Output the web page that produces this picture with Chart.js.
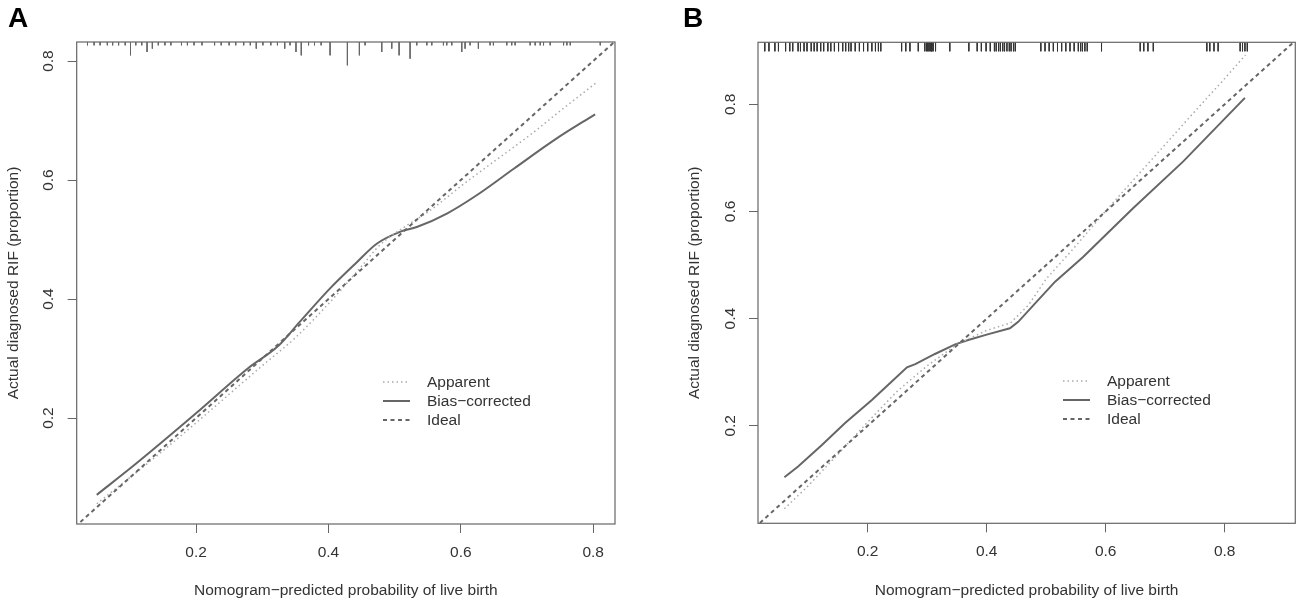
<!DOCTYPE html>
<html>
<head>
<meta charset="utf-8">
<script src="https://cdn.jsdelivr.net/npm/chart.js@4.4.0/dist/chart.umd.min.js"></script>
<style>
  html, body { margin: 0; padding: 0; background: #fff; width: 1299px; height: 604px; overflow: hidden;
    font-family: "Liberation Sans", Arial, sans-serif; }
  #wrap { position: relative; width: 1299px; height: 604px; }
  canvas { position: absolute; top: 0; }
  .plabel { position: absolute; font-weight: bold; font-size: 28px; line-height: 28px; color: #000; }
  .legend { position: absolute; font-size: 15.5px; color: #333; }
  .legend .row { height: 19.2px; display: flex; align-items: center; white-space: nowrap; }
  .legend svg { display: block; margin-right: 17px; }
</style>
</head>
<body>
<div id="wrap">
  <canvas id="chartA" width="650" height="604" style="left:0px"></canvas>
  <canvas id="chartB" width="649" height="604" style="left:650px"></canvas>
  <div class="plabel" style="left:8px;top:4px">A</div>
  <div class="plabel" style="left:683px;top:4px">B</div>
  <div class="legend" id="legendA" style="left:383px;top:372px"></div>
  <div class="legend" id="legendB" style="left:1063px;top:371px"></div>
</div>
<script>
// ---------------- data ----------------
const tickValues = [0.2, 0.4, 0.6, 0.8];
const legendLabels = ['Apparent', 'Bias\u2212corrected', 'Ideal'];
const xTitle = 'Nomogram\u2212predicted probability of live birth';
const yTitle = 'Actual diagnosed RIF (proportion)';

// ideal reference line (y = x)
const idealX = [0, 1];
const idealY = [0, 1];

// Panel A
const apparentXA = [0.05, 0.10, 0.15, 0.20, 0.25, 0.30, 0.35, 0.40, 0.45, 0.478, 0.523, 0.55, 0.604, 0.65, 0.705, 0.75, 0.804];
const apparentYA = [0.056, 0.100, 0.145, 0.192, 0.240, 0.288, 0.335, 0.392, 0.455, 0.491, 0.527, 0.546, 0.593, 0.631, 0.676, 0.716, 0.763];
const biasXA = [0.05, 0.11, 0.20, 0.28, 0.324, 0.357, 0.4025, 0.443, 0.473, 0.508, 0.5335, 0.579, 0.624, 0.68, 0.745, 0.803];
const biasYA = [0.071, 0.124, 0.208, 0.285, 0.321, 0.362, 0.418, 0.462, 0.493, 0.513, 0.521, 0.5437, 0.5745, 0.619, 0.670, 0.7105];
const rugXA = [0.036, 0.046, 0.055, 0.066, 0.074, 0.083, 0.093, 0.101, 0.109, 0.118, 0.126, 0.134, 0.143, 0.153, 0.162,
  0.178, 0.187, 0.197, 0.209, 0.228, 0.238, 0.250, 0.260, 0.272, 0.282, 0.291, 0.301, 0.313, 0.323, 0.334, 0.342,
  0.351, 0.359, 0.370, 0.379, 0.389,
  0.4025, 0.4287, 0.4468, 0.4554, 0.4806, 0.4957, 0.5068, 0.5234, 0.5335, 0.5487, 0.5562, 0.5738, 0.5788, 0.5864,
  0.6015, 0.6065, 0.614, 0.6266, 0.6443, 0.6493, 0.6695, 0.677, 0.6821, 0.7048, 0.7124, 0.72, 0.725, 0.7351,
  0.7553, 0.7603, 0.7654, 0.8107];
const rugCountA = [1, 1, 1, 1, 1, 1, 1, 4, 1, 1, 3, 2, 1, 1, 1,
  1, 1, 1, 1, 1, 1, 1, 1, 1, 1, 2, 1, 1, 1, 2, 1,
  3, 4, 1, 1, 1,
  4, 7, 4, 1, 3, 2, 4, 5, 1, 1, 1, 1, 1, 1,
  3, 2, 1, 2, 1, 1, 1, 1, 1, 1, 1, 1, 1, 1,
  1, 1, 1, 1];

// Panel B
const apparentXB = [0.06, 0.10, 0.15, 0.20, 0.25, 0.30, 0.35, 0.40, 0.44, 0.47, 0.50, 0.55, 0.60, 0.65, 0.70, 0.75, 0.80, 0.835];
const apparentYB = [0.045, 0.088, 0.147, 0.207, 0.265, 0.312, 0.352, 0.378, 0.392, 0.425, 0.474, 0.536, 0.601, 0.663, 0.725, 0.787, 0.848, 0.892];
const biasXB = [0.06, 0.083, 0.123, 0.162, 0.207, 0.24, 0.266, 0.28, 0.313, 0.347, 0.369, 0.403, 0.439, 0.453, 0.481, 0.515, 0.562, 0.646, 0.73, 0.834];
const biasYB = [0.104, 0.124, 0.164, 0.205, 0.248, 0.282, 0.309, 0.315, 0.334, 0.352, 0.360, 0.371, 0.382, 0.394, 0.428, 0.469, 0.515, 0.606, 0.693, 0.812];
const rugXB = [0.027, 0.034, 0.044, 0.050, 0.062, 0.069, 0.074, 0.083, 0.087, 0.093, 0.098, 0.105, 0.110, 0.115, 0.121,
  0.126, 0.133, 0.138, 0.144, 0.151, 0.158, 0.163, 0.168, 0.172, 0.179, 0.186, 0.193, 0.200, 0.207, 0.213, 0.218, 0.222,
  0.257, 0.264, 0.271, 0.285, 0.296, 0.299, 0.301, 0.303, 0.305, 0.307, 0.308, 0.310, 0.314, 0.338,
  0.370, 0.384, 0.391, 0.399, 0.406, 0.413, 0.416, 0.420, 0.423, 0.427, 0.430, 0.434, 0.438, 0.441, 0.445, 0.448,
  0.491, 0.498, 0.505, 0.512, 0.519, 0.526, 0.533, 0.540, 0.547, 0.554, 0.558, 0.561, 0.565, 0.569,
  0.593, 0.658, 0.664, 0.671, 0.680, 0.770, 0.775, 0.782, 0.789, 0.826, 0.830, 0.834, 0.838];

// ---------------- helpers ----------------
const FONT = '"Liberation Sans", Arial, sans-serif';
const zip = (xs, ys) => xs.map((x, i) => ({ x: x, y: ys[i] }));
function rugPoints(xs, lens, top) {
  const pts = [];
  xs.forEach((x, i) => {
    pts.push({ x: x, y: top });
    pts.push({ x: x, y: top - lens[i] });
    pts.push({ x: x, y: null });
  });
  return pts;
}

const boxPlugin = {
  id: 'plotBox',
  afterDatasetsDraw(chart) {
    const { ctx, chartArea: a } = chart;
    ctx.save();
    ctx.strokeStyle = '#666';
    ctx.lineWidth = 1.2;
    ctx.strokeRect(a.left, a.top, a.right - a.left, a.bottom - a.top);
    ctx.restore();
  }
};

const lineStyles = {
  apparent: { color: '#aaaaaa', width: 1.5, dash: [1.5, 3] },
  bias: { color: '#666666', width: 2, dash: [] },
  ideal: { color: '#666666', width: 2, dash: [4, 3.5] }
};

function makePanel(id, p) {
  const curveMode = p.smooth ? 'monotone' : 'default';
  const datasets = [
    { label: 'rug', data: rugPoints(p.rugX, p.rugLen, p.yMax), borderColor: p.rugColor, borderWidth: 1,
      showLine: true, pointRadius: 0, spanGaps: false },
    { label: legendLabels[2], data: zip(idealX, idealY), borderColor: lineStyles.ideal.color,
      borderWidth: lineStyles.ideal.width, borderDash: lineStyles.ideal.dash, showLine: true, pointRadius: 0 },
    { label: legendLabels[0], data: zip(p.appX, p.appY), borderColor: lineStyles.apparent.color,
      borderWidth: lineStyles.apparent.width, borderDash: lineStyles.apparent.dash, showLine: true, pointRadius: 0,
      cubicInterpolationMode: curveMode },
    { label: legendLabels[1], data: zip(p.biasX, p.biasY), borderColor: lineStyles.bias.color,
      borderWidth: lineStyles.bias.width, showLine: true, pointRadius: 0, cubicInterpolationMode: curveMode }
  ];
  const tickFont = { family: FONT, size: 15.5 };
  return new Chart(document.getElementById(id), {
    type: 'scatter',
    data: { datasets: datasets },
    plugins: [boxPlugin],
    options: {
      responsive: false,
      animation: false,
      events: [],
      layout: { padding: { left: 0, top: p.padTop, right: p.padRight, bottom: 0 } },
      plugins: { legend: { display: false }, tooltip: { enabled: false } },
      scales: {
        x: {
          type: 'linear', min: p.xMin, max: p.xMax,
          afterBuildTicks: s => { s.ticks = tickValues.map(v => ({ value: v })); },
          afterFit: s => { s.height = p.xAxisH; },
          ticks: { callback: v => Number(v).toFixed(1), font: tickFont, color: '#333', padding: 10, maxRotation: 0, autoSkip: false },
          grid: { drawOnChartArea: false, drawTicks: true, tickLength: 9, color: '#666', lineWidth: 1 },
          border: { display: false },
          title: { display: true, text: xTitle, font: tickFont, color: '#333', padding: { top: 0, bottom: 4.2 } }
        },
        y: {
          type: 'linear', min: p.yMin, max: p.yMax,
          afterBuildTicks: s => { s.ticks = tickValues.map(v => ({ value: v })); },
          afterFit: s => { s.width = p.yAxisW; },
          ticks: { callback: v => Number(v).toFixed(1), font: tickFont, color: '#333', padding: 8,
            minRotation: 90, maxRotation: 90, crossAlign: 'center', autoSkip: false },
          grid: { drawOnChartArea: false, drawTicks: true, tickLength: 9, color: '#666', lineWidth: 1 },
          border: { display: false },
          title: { display: true, text: yTitle, font: tickFont, color: '#333', padding: { top: p.yTitlePad, bottom: 0 } }
        }
      }
    }
  });
}

function buildLegend(elId) {
  const el = document.getElementById(elId);
  const styles = [lineStyles.apparent, lineStyles.bias, lineStyles.ideal];
  legendLabels.forEach((lab, i) => {
    const s = styles[i];
    const row = document.createElement('div');
    row.className = 'row';
    row.innerHTML = '<svg width="27" height="10"><line x1="0" y1="5" x2="27" y2="5" stroke="' + s.color +
      '" stroke-width="' + s.width + '" stroke-dasharray="' + (s.dash.length ? s.dash.join(' ') : 'none') + '"/></svg>';
    const span = document.createElement('span');
    span.textContent = lab;
    row.appendChild(span);
    el.appendChild(row);
  });
}

const rugUnitA = 0.0056;   // spike length per observation (panel A)
const rugLenB = 0.0168;    // uniform rug tick length (panel B)

makePanel('chartA', {
  xMin: 0.0197, xMax: 0.833, yMin: 0.022, yMax: 0.832,
  padTop: 42, padRight: 35, yAxisW: 76.7, xAxisH: 80, yTitlePad: 4.2, smooth: true,
  appX: apparentXA, appY: apparentYA, biasX: biasXA, biasY: biasYA,
  rugX: rugXA, rugLen: rugCountA.map(c => c * rugUnitA), rugColor: '#666'
});
makePanel('chartB', {
  xMin: 0.0156, xMax: 0.9187, yMin: 0.018, yMax: 0.9157,
  padTop: 42.3, padRight: 3.7, yAxisW: 108, xAxisH: 80.7, yTitlePad: 35.2, smooth: false,
  appX: apparentXB, appY: apparentYB, biasX: biasXB, biasY: biasYB,
  rugX: rugXB, rugLen: rugXB.map(() => rugLenB), rugColor: '#333'
});
buildLegend('legendA');
buildLegend('legendB');
</script>
</body>
</html>
